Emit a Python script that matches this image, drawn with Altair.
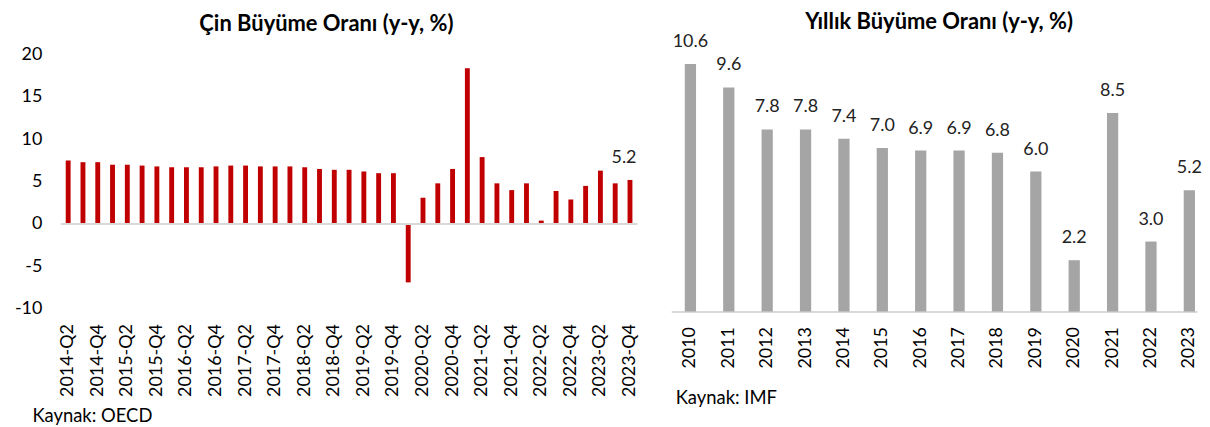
import altair as alt
import pandas as pd

FONT = "Lato"

# ---- Left panel: quarterly growth (OECD) ----
quarters = [
    "2014-Q2", "2014-Q3", "2014-Q4",
    "2015-Q1", "2015-Q2", "2015-Q3", "2015-Q4",
    "2016-Q1", "2016-Q2", "2016-Q3", "2016-Q4",
    "2017-Q1", "2017-Q2", "2017-Q3", "2017-Q4",
    "2018-Q1", "2018-Q2", "2018-Q3", "2018-Q4",
    "2019-Q1", "2019-Q2", "2019-Q3", "2019-Q4",
    "2020-Q1", "2020-Q2", "2020-Q3", "2020-Q4",
    "2021-Q1", "2021-Q2", "2021-Q3", "2021-Q4",
    "2022-Q1", "2022-Q2", "2022-Q3", "2022-Q4",
    "2023-Q1", "2023-Q2", "2023-Q3", "2023-Q4",
]
quarterly_growth = [
    7.5, 7.3, 7.3,
    7.0, 7.0, 6.9, 6.8,
    6.7, 6.7, 6.7, 6.8,
    6.9, 6.9, 6.8, 6.8,
    6.8, 6.7, 6.5, 6.4,
    6.4, 6.2, 6.0, 6.0,
    -6.9, 3.1, 4.8, 6.5,
    18.4, 7.9, 4.8, 4.0,
    4.8, 0.4, 3.9, 2.9,
    4.5, 6.3, 4.8, 5.2,
]
quarter_tick_labels = quarters[::2]
left_y_ticks = [-10, -5, 0, 5, 10, 15, 20]
left_labelled = ["2023-Q4"]

# ---- Right panel: annual growth (IMF) ----
years = ["2010", "2011", "2012", "2013", "2014", "2015", "2016",
         "2017", "2018", "2019", "2020", "2021", "2022", "2023"]
annual_growth = [10.6, 9.6, 7.8, 7.8, 7.4, 7.0, 6.9, 6.9, 6.8, 6.0, 2.2, 8.5, 3.0, 5.2]

left_df = pd.DataFrame({"q": quarters, "v": quarterly_growth})
zero_df = pd.DataFrame({"z": [0]})
right_df = pd.DataFrame({"yr": years, "v": annual_growth})

TXT = "#000000"

left_x = alt.X(
    "q:N", sort=quarters,
    scale=alt.Scale(paddingInner=0.67, paddingOuter=0.335),
    axis=alt.Axis(
        values=quarter_tick_labels, labelAngle=270, domain=False, ticks=False,
        labelPadding=15, labelFont=FONT, labelFontSize=18, labelColor=TXT,
        title="Kaynak: OECD", titleFont=FONT, titleFontSize=18.5, titleFontWeight="normal",
        titleColor=TXT, titleAnchor="start", titleAlign="left", titleBaseline="alphabetic",
        titleX=-29, titleY=113,
    ),
)
left_y = alt.Y(
    "v:Q",
    scale=alt.Scale(domain=[-10, 20], nice=False, zero=False),
    axis=alt.Axis(
        values=left_y_ticks, domain=False, ticks=False, grid=False, labelPadding=19,
        labelFont=FONT, labelFontSize=18, labelColor=TXT, title=None,
        labelExpr="'' + datum.value",
    ),
)

left_bars = alt.Chart(left_df).mark_bar(color="#C00000").encode(x=left_x, y=left_y)
left_zero = alt.Chart(zero_df).mark_rule(color="#D9D9D9", strokeWidth=2).encode(y=alt.Y("z:Q"))
left_text = (
    alt.Chart(left_df)
    .transform_filter(alt.FieldOneOfPredicate(field="q", oneOf=left_labelled))
    .mark_text(font=FONT, fontSize=18, color="#222222", baseline="alphabetic", dy=-17, dx=-6)
    .encode(x=alt.X("q:N", sort=quarters), y=alt.Y("v:Q"), text=alt.Text("v:Q", format=".1f"))
)

left = alt.layer(left_bars, left_zero, left_text).properties(
    width=579, height=255,
    title=alt.TitleParams("Çin Büyüme Oranı (y-y, %)", font=FONT, fontSize=22,
                          fontWeight="bold", color=TXT, offset=10, frame="bounds"),
)

right_x = alt.X(
    "yr:N", sort=years,
    scale=alt.Scale(paddingInner=0.707, paddingOuter=0.2035, align=0.869),
    axis=alt.Axis(
        labelAngle=270, domain=True, domainColor="#D9D9D9", domainWidth=2, ticks=False,
        labelPadding=15, labelFont=FONT, labelFontSize=18, labelColor=TXT,
        title="Kaynak: IMF", titleFont=FONT, titleFontSize=18.5, titleFontWeight="normal",
        titleColor=TXT, titleAnchor="start", titleAlign="left", titleBaseline="alphabetic",
        titleX=4, titleY=92,
    ),
)
right_y = alt.Y("v:Q", scale=alt.Scale(domain=[0, 11], nice=False), axis=None)

right_bars = alt.Chart(right_df).mark_bar(color="#A5A5A5").encode(x=right_x, y=right_y)
right_text = alt.Chart(right_df).mark_text(
    font=FONT, fontSize=18, color="#222222", baseline="alphabetic", dy=-17
).encode(x=alt.X("yr:N", sort=years), y=alt.Y("v:Q"), text=alt.Text("v:Q", format=".1f"))

right = alt.layer(right_bars, right_text).properties(
    width=528, height=258,
    title=alt.TitleParams("Yıllık Büyüme Oranı (y-y, %)", font=FONT, fontSize=22,
                          fontWeight="bold", color=TXT, offset=-1, dx=5),
)

chart = (
    alt.hconcat(left, right, spacing=32)
    .properties(padding={"left": 6, "top": 2, "right": 0, "bottom": 0}, background="white")
    .configure_view(strokeWidth=0, stroke="transparent")
)

chart.save("out.html", embed_options={"renderer": "svg", "actions": False})
